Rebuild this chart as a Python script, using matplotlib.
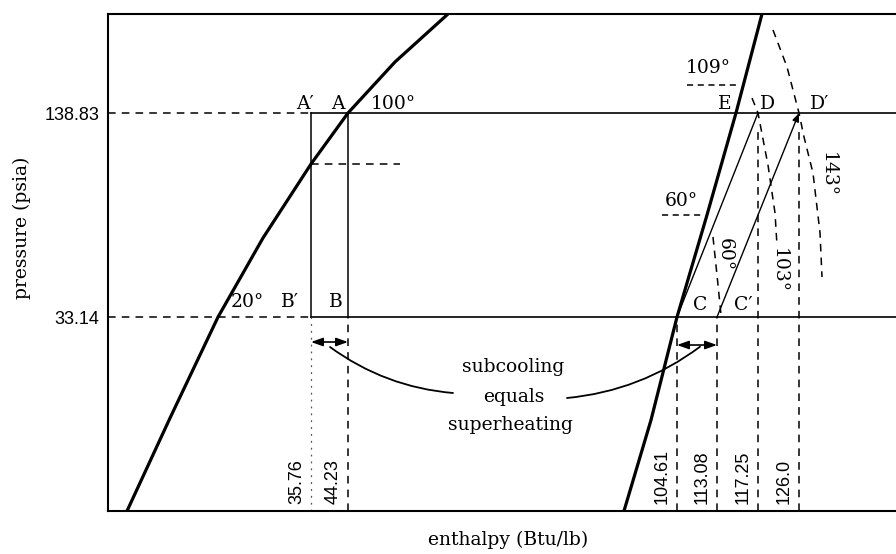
import numpy as np
import matplotlib.pyplot as plt

# pressure levels (psia)
P_HIGH = 138.83
P_LOW = 33.14

# enthalpy values (Btu/lb)
H_A_SUB = 35.76   # A', subcooled liquid
H_A = 44.23       # A, saturated liquid
H_C = 104.61      # C, saturated vapour
H_C_SUP = 113.08  # C', superheated vapour
H_D = 117.25      # D
H_D_SUP = 126.0   # D'
bottom_labels = ["35.76", "44.23", "104.61", "113.08", "117.25", "126.0"]
bottom_h = [H_A_SUB, H_A, H_C, H_C_SUP, H_D, H_D_SUP]

# saturation dome (schematic)
liq_h = [3.35, 10.92, 19.38, 27.30, 35.76, 44.23, 52.86, 62.58]
liq_p = [8.49, 16.30, 33.14, 57.72, 97.04, 138.83, 198.7, 278.2]
vap_h = [94.88, 99.84, 104.61, 110.96, 115.01, 118.10]
vap_p = [8.49, 16.08, 33.14, 67.84, 138.83, 278.2]

# isotherms
iso103_h = [116.64, 117.25, 119.38, 120.88, 121.30]
iso103_p = [154.2, 138.83, 96.36, 68.80, 54.95]
iso143_h = [120.45, 123.44, 126.0, 127.24, 129.46, 131.20, 131.69]
iso143_p = [248.7, 191.8, 138.83, 117.3, 91.11, 59.78, 43.89]
iso60_h = [112.23, 113.08, 113.49]
iso60_p = [58.13, 44.50, 33.61]
P_SAT_SUB = 97.04   # saturation pressure of the subcooled liquid at A'

# schematic (non-linear) enthalpy axis
H_KNOTS = [0, 35.76, 44.23, 104.61, 113.08, 117.25, 126.0, 150]
POS = [0, 203, 240, 569, 609, 650, 691, 788]


def fwd(h):
    return np.interp(h, H_KNOTS, POS)


def inv(p):
    return np.interp(p, POS, H_KNOTS)


serif = 'DejaVu Serif'
sans = 'Liberation Sans'

fig = plt.figure(figsize=(8.96, 5.54), dpi=100)
ax = fig.add_axes([108 / 896, 43 / 554, 788 / 896, 497 / 554])
ax.set_xscale('function', functions=(fwd, inv))
ax.set_yscale('log')
ax.set_xlim(0, 150)
ax.set_ylim(8.49, 278.2)

for s in ['top', 'left', 'bottom']:
    ax.spines[s].set_linewidth(1.5)
ax.spines['right'].set_visible(False)
ax.set_xticks([])
ax.minorticks_off()
ax.set_yticks([P_LOW, P_HIGH])
ax.set_yticklabels(['33.14', '138.83'], fontfamily=sans, fontsize=13)
ax.tick_params(axis='y', length=0, pad=6)

k = 'black'
# dome
ax.plot(liq_h, liq_p, color=k, lw=2.3, solid_capstyle='butt')
ax.plot(vap_h, vap_p, color=k, lw=2.3, solid_capstyle='butt')

# pressure lines
for p in [P_HIGH, P_LOW]:
    ax.plot([H_A_SUB, 150], [p, p], color=k, lw=1.2)
    ax.plot([0, H_A_SUB], [p, p], color=k, lw=1.1, ls=(0, (5, 4)))

# expansion lines A'B' and AB
ax.plot([H_A_SUB, H_A_SUB], [P_LOW, P_HIGH], color=k, lw=1.1)
ax.plot([H_A, H_A], [P_LOW, P_HIGH], color=k, lw=1.1)
ax.plot([H_A_SUB, 53.77], [P_SAT_SUB, P_SAT_SUB], color=k, lw=1.1, ls=(0, (5, 4)))

# compression lines
ax.plot([H_C, H_D], [P_LOW, P_HIGH], color=k, lw=1.0)
ax.annotate('', xy=(H_D_SUP, P_HIGH), xytext=(H_C_SUP, P_LOW),
            arrowprops=dict(arrowstyle='-|>,head_length=0.5,head_width=0.2',
                            color=k, lw=1.0, shrinkA=0, shrinkB=0))

# drop lines to the enthalpy axis
ax.plot([H_A_SUB, H_A_SUB], [8.49, P_LOW], color='#555555', lw=0.9, ls=(0, (1.5, 4)))
for h in [H_A, H_C, H_C_SUP]:
    ax.plot([h, h], [8.49, P_LOW], color=k, lw=1.1, ls=(0, (5, 4)))
for h in [H_D, H_D_SUP]:
    ax.plot([h, h], [8.49, 127], color=k, lw=1.1, ls=(0, (5, 4)))

# isotherms
ax.plot(iso103_h, iso103_p, color=k, lw=1.1, ls=(0, (5, 4)))
ax.plot(iso143_h, iso143_p, color=k, lw=1.1, ls=(0, (5, 4)))
ax.plot(iso60_h, iso60_p, color=k, lw=1.1, ls=(0, (5, 4)))
ax.plot([101.86, 110.12], [67.84, 67.84], color=k, lw=1.1, ls=(0, (4, 3)))
ax.plot([106.73, 115.22], [169.0, 169.0], color=k, lw=1.1, ls=(0, (4, 3)))

# subcooling / superheating arrows
dbl = dict(arrowstyle='<|-|>,head_length=0.7,head_width=0.25', color=k,
           lw=1.2, shrinkA=0, shrinkB=0)
ax.annotate('', xy=(H_A_SUB, 27.81), xytext=(H_A, 27.81), arrowprops=dbl)
ax.annotate('', xy=(H_C, 27.23), xytext=(H_C_SUP, 27.23), arrowprops=dbl)
ax.annotate('', xy=(63.50, 19.44), xytext=(40.11, 26.85),
            arrowprops=dict(arrowstyle='-', color=k, lw=1.3, shrinkA=0, shrinkB=0,
                            connectionstyle='arc3,rad=0.14'))
ax.annotate('', xy=(109.48, 26.90), xytext=(84.42, 18.77),
            arrowprops=dict(arrowstyle='-', color=k, lw=1.3, shrinkA=0, shrinkB=0,
                            connectionstyle='arc3,rad=0.14'))
ax.text(74.5, 23.33, 'subcooling', family=serif, fontsize=13.5, ha='center', va='center')
ax.text(74.7, 18.90, 'equals', family=serif, fontsize=13.5, ha='center', va='center')
ax.text(74.0, 15.50, 'superheating', family=serif, fontsize=13.5, ha='center', va='center')

# point labels
pt = dict(family=serif, fontsize=13.5, ha='center', va='center')
ax.text(34.70, 147.9, "A\u2032", **pt)
ax.text(41.94, 147.9, "A", **pt)
ax.text(52.49, 147.9, "100\u00b0", **pt)
ax.text(24.49, 36.82, "20\u00b0", **pt)
ax.text(32.06, 36.82, "B\u2032", **pt)
ax.text(41.48, 36.82, "B", **pt)
ax.text(109.48, 36.06, "C", **pt)
ax.text(115.72, 36.06, "C\u2032", **pt)
ax.text(113.89, 147.9, "E", **pt)
ax.text(119.38, 147.9, "D", **pt)
ax.text(131.20, 147.9, "D\u2032", **pt)
ax.text(111.17, 190.5, "109\u00b0", **pt)
ax.text(105.46, 74.83, "60\u00b0", **pt)
ax.text(113.9, 51.5, "60\u00b0", family=serif, fontsize=13.5, ha='center', va='center',
        rotation=-90)
ax.text(121.7, 46.0, "103\u00b0", family=serif, fontsize=13.5, ha='center', va='center',
        rotation=-90)
ax.text(133.0, 90.0, "143\u00b0", family=serif, fontsize=13.5, ha='center', va='center',
        rotation=-90)

# enthalpy values along the bottom
for h, lab in zip(bottom_h, bottom_labels):
    ax.annotate(lab, xy=(h, 0), xycoords=('data', 'axes fraction'),
                xytext=(-10.5, 5), textcoords='offset points', rotation=90,
                ha='center', va='bottom', family=sans, fontsize=13)

fig.text(508 / 896, 1 - 540 / 554, 'enthalpy (Btu/lb)', family=serif, fontsize=13.5,
         ha='center', va='center')
fig.text(22 / 896, 1 - 228 / 554, 'pressure (psia)', family=serif, fontsize=13.5,
         ha='center', va='center', rotation=90)

fig.savefig('out.png', dpi=100)
